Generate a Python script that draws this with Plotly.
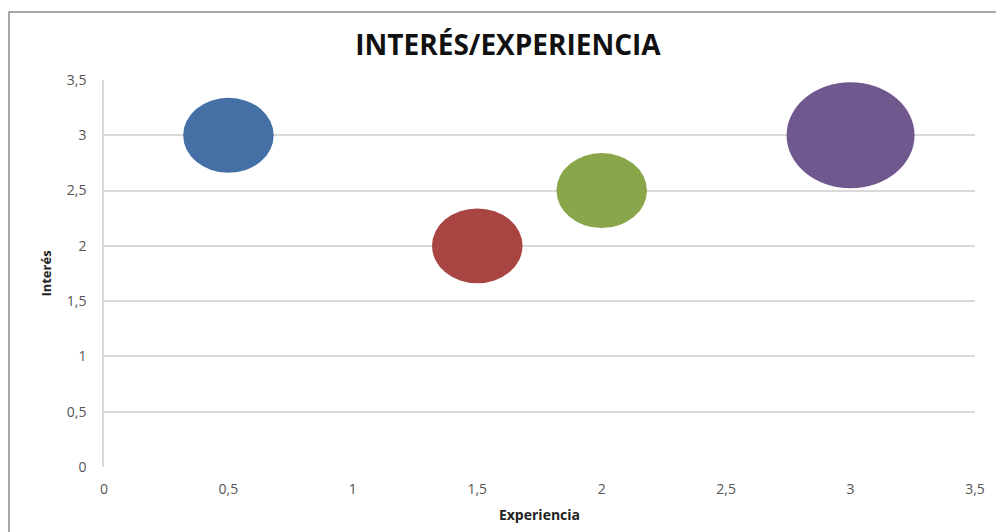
import math
import plotly.graph_objects as go

# ---- data ----
experiencia = [0.5, 1.5, 2.0, 3.0]
interes = [3.0, 2.0, 2.5, 3.0]
tamano = [1, 1, 1, 2]
colores = ["#4470A6", "#A84543", "#89A64A", "#70588E"]
tick_vals = [0, 0.5, 1, 1.5, 2, 2.5, 3, 3.5]
tick_text = ["0", "0,5", "1", "1,5", "2", "2,5", "3", "3,5"]

W, H = 996, 532
ML, MR, MT, MB = 104, 21, 80, 65
plot_w = W - ML - MR
plot_h = H - MT - MB
xr = [0, 3.5]
yr = [0, 3.5]

# bubble diameter (px) for the largest bubble, horizontally and vertically
DX_MAX, DY_MAX = 128, 106
smax = max(tamano)

fig = go.Figure()
fig.add_trace(go.Scatter(
    x=experiencia, y=interes, mode="markers",
    marker=dict(size=[DY_MAX * math.sqrt(s / smax) for s in tamano],
                color=colores, opacity=0),
    hovertemplate="Experiencia: %{x}<br>Interés: %{y}<extra></extra>",
    showlegend=False,
))

shapes = []
for x, y, s, c in zip(experiencia, interes, tamano, colores):
    f = math.sqrt(s / smax)
    rx = DX_MAX * f / 2 * (xr[1] - xr[0]) / plot_w
    ry = DY_MAX * f / 2 * (yr[1] - yr[0]) / plot_h
    shapes.append(dict(type="circle", xref="x", yref="y",
                       x0=x - rx, x1=x + rx, y0=y - ry, y1=y + ry,
                       fillcolor=c, line=dict(width=0), layer="above"))

# outer chart border
shapes.append(dict(type="rect", xref="paper", yref="paper",
                   x0=(9 - ML) / plot_w, x1=(W + 5 - ML) / plot_w,
                   y0=(H - MB - (H + 5)) / plot_h, y1=(H - MB - 12) / plot_h,
                   line=dict(color="#8C8C8C", width=1.5), fillcolor="rgba(0,0,0,0)",
                   layer="below"))

tickfont = dict(family="Open Sans", size=14, color="#555555")

fig.update_layout(
    width=W, height=H,
    margin=dict(l=ML, r=MR, t=MT, b=MB),
    paper_bgcolor="white", plot_bgcolor="white",
    title=dict(text="<b>INTERÉS/EXPERIENCIA</b>", x=(508 - ML) / plot_w, xref="paper",
               xanchor="center", y=1 - 45 / H, yanchor="middle",
               font=dict(family="Open Sans", size=28, color="#111111")),
    shapes=shapes,
    xaxis=dict(range=xr, tickvals=tick_vals, ticktext=tick_text,
               showgrid=False, zeroline=False, showline=False,
               ticks="", ticklabelstandoff=12, tickfont=tickfont,
               title=dict(text="<b>Experiencia</b>", standoff=13,
                          font=dict(family="Open Sans", size=14, color="#222222"))),
    yaxis=dict(range=yr, tickvals=tick_vals, ticktext=tick_text,
               showgrid=True, gridcolor="#D9D9D9", gridwidth=1.5,
               zeroline=False, showline=True, linecolor="#D9D9D9", linewidth=1.5,
               ticks="", ticklabelstandoff=13, tickfont=tickfont,
               title=dict(text="<b>Interés</b>", standoff=12,
                          font=dict(family="Open Sans", size=13, color="#222222"))),
    showlegend=False,
)

fig.write_html("out.html", config={"displayModeBar": False},
               post_script="document.body.style.margin='0';document.body.style.overflow='hidden';")
